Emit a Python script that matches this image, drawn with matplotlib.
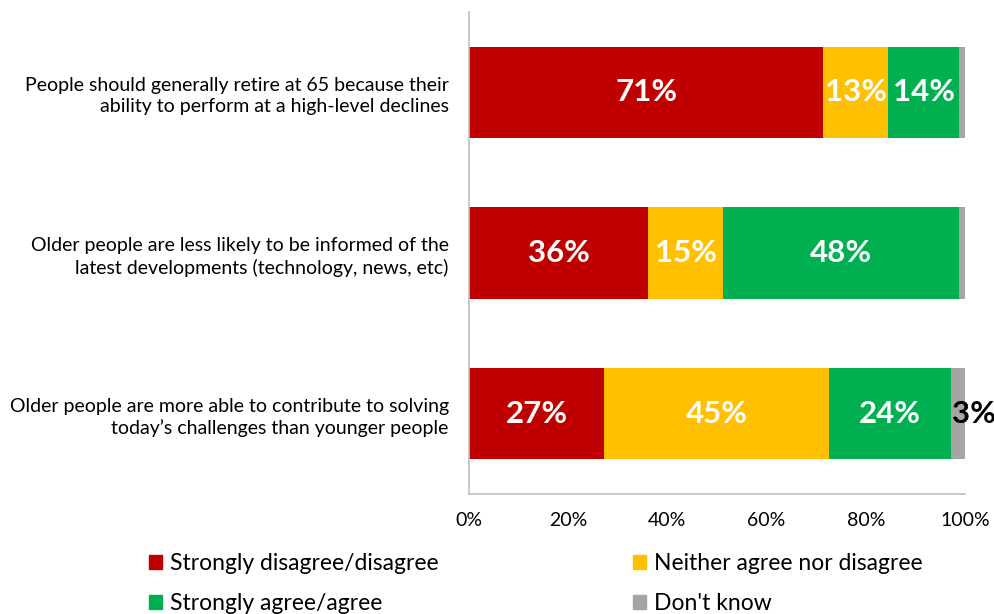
import matplotlib
matplotlib.use("Agg")
import matplotlib.pyplot as plt
from matplotlib.patches import Patch

plt.rcParams['font.family'] = ['Lato', 'DejaVu Sans']

categories = [
    "People should generally retire at 65 because their\nability to perform at a high-level declines",
    "Older people are less likely to be informed of the\nlatest developments (technology, news, etc)",
    "Older people are more able to contribute to solving\ntoday\u2019s challenges than younger people",
]
series_names = ["Strongly disagree/disagree", "Neither agree nor disagree",
                "Strongly agree/agree", "Don't know"]
disagree = [71.4, 36.1, 27.2]
neither = [13.1, 15.1, 45.4]
agree = [14.3, 47.6, 24.6]
dont_know = [1.2, 1.2, 2.8]
colors = ["#C00000", "#FFC000", "#00B050", "#A5A5A5"]
tick_vals = [0, 20, 40, 60, 80, 100]
tick_labels = ["0%", "20%", "40%", "60%", "80%", "100%"]
bar_labels = [["71%", "36%", "27%"], ["13%", "15%", "45%"],
              ["14%", "48%", "24%"], ["", "", "3%"]]

fig = plt.figure(figsize=(9.95, 6.14), dpi=100)
ax = fig.add_axes([469/995, 1-494/614, (965-469)/995, (494-12)/614])

series = [disagree, neither, agree, dont_know]
ypos = list(range(len(categories)))
left = [0.0]*len(categories)
for si, (vals, col) in enumerate(zip(series, colors)):
    ax.barh(ypos, vals, left=left, height=0.57, color=col, label=series_names[si])
    for i, v in enumerate(vals):
        lab = bar_labels[si][i]
        if not lab:
            continue
        if si < 3:
            ax.text(left[i] + v/2, ypos[i], lab, ha='center', va='center',
                    color='white', fontsize=22.5, fontweight='bold')
        else:
            ax.text(left[i] + v/2 - 1.3, ypos[i], lab, ha='left', va='center',
                    color='black', fontsize=22.5, fontweight='bold')
    left = [l + v for l, v in zip(left, vals)]

ax.set_xlim(0, 100)
ax.set_ylim(2.5, -0.5)
ax.set_yticks(ypos)
ax.set_yticklabels(categories, fontsize=14, ha='right', multialignment='right',
                   linespacing=1.3)
ax.set_xticks(tick_vals)
ax.set_xticklabels(tick_labels, fontsize=14)
ax.tick_params(axis='both', length=0)
ax.tick_params(axis='y', pad=14.5)
ax.tick_params(axis='x', pad=13)
for s in ['top', 'right']:
    ax.spines[s].set_visible(False)
for s in ['left', 'bottom']:
    ax.spines[s].set_color('#BFBFBF')
    ax.spines[s].set_linewidth(1.2)

handles = [Patch(color=c) for c in colors]
order = [0, 2, 1, 3]
fig.legend([handles[i] for i in order], [series_names[i] for i in order],
           loc='upper left', bbox_to_anchor=(149/995, 1-553/614), ncol=2, frameon=False,
           fontsize=16.5, handlelength=0.55, handleheight=0.55, handletextpad=0.35,
           columnspacing=8.5, labelspacing=0.82, borderaxespad=0, borderpad=0)

fig.savefig("out.png", dpi=100)
